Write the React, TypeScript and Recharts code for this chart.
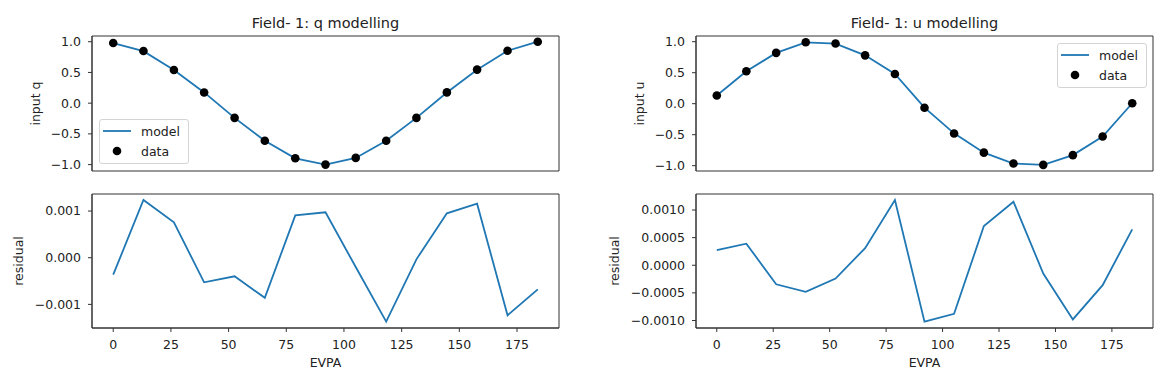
import React from 'react';
import { ComposedChart, LineChart, Line, Scatter, XAxis, YAxis, Legend, ReferenceArea } from 'recharts';

// EVPA sample positions (shared by every panel)
const evpa = [0, 13.1, 26.3, 39.4, 52.6, 65.7, 78.9, 92.0, 105.1, 118.3, 131.4, 144.6, 157.7, 170.9, 184.0];

// q panel
const qData = [0.978, 0.848, 0.54, 0.174, -0.239, -0.612, -0.896, -1.0, -0.891, -0.612, -0.24, 0.175, 0.546, 0.852, 1.0];
const qModel = [0.978, 0.847, 0.539, 0.175, -0.239, -0.611, -0.897, -1.0, -0.891, -0.611, -0.24, 0.174, 0.545, 0.853, 1.0];
const qResidual = [-0.000364, 0.001236, 0.000758, -0.000528, -0.000399, -0.00086, 0.000908, 0.000973, -0.0002, -0.00137, -0.000035, 0.000951, 0.001157, -0.001234, -0.000677];

// u panel
const uData = [0.132, 0.524, 0.82, 0.99, 0.97, 0.78, 0.48, -0.065, -0.48, -0.79, -0.965, -0.987, -0.83, -0.53, 0.008];
const uModel = [0.132, 0.524, 0.82, 0.989, 0.97, 0.78, 0.479, -0.064, -0.479, -0.791, -0.966, -0.987, -0.829, -0.53, 0.007];
const uResidual = [0.000272, 0.000391, -0.000344, -0.00048, -0.00024, 0.00031, 0.00118, -0.00102, -0.00088, 0.00071, 0.00115, -0.00015, -0.00098, -0.00036, 0.00065];

// ticks
const xTicks = [0, 25, 50, 75, 100, 125, 150, 175];
const fitTicks = [-1, -0.5, 0, 0.5, 1];
const qResTicks = [-0.001, 0, 0.001];
const uResTicks = [-0.001, -0.0005, 0, 0.0005, 0.001];

const FONT = '"DejaVu Sans", sans-serif';
const BLUE = '#1f77b4';
const SPINE = '#333';
const TXT = '#222';
const xDomain: [number, number] = [-9.2, 193.2];

const fmt = (digits: number) => (v: number) => v.toFixed(digits).replace('-', '\u2212');

const yLabel = (text: string, offset: number) => (props: any) => {
  const vb = props.viewBox || { x: 0, y: 0, height: 0 };
  const x = vb.x + offset;
  const y = vb.y + vb.height / 2;
  return (
    <text x={x} y={y} dy="0.35em" transform={`rotate(-90, ${x}, ${y})`} textAnchor="middle"
      fontSize={12.5} fontFamily={FONT} fill={TXT}>{text}</text>
  );
};

// matplotlib order: line handle first, then markers
const LegendBox = ({ payload }: any) => {
  const items = [...(payload || [])].sort((a: any, b: any) => (a.type === 'line' ? -1 : 0) - (b.type === 'line' ? -1 : 0));
  return (
    <div style={{
      width: 90, height: 45, boxSizing: 'border-box', border: '1px solid #d4d4d4', borderRadius: 3,
      background: 'rgba(255,255,255,0.85)', padding: '1px 0 0 3px', fontFamily: FONT, fontSize: 12.5, color: TXT,
    }}>
      {items.map((e: any) => (
        <div key={e.value} style={{ display: 'flex', alignItems: 'center', height: 20 }}>
          <svg width={38} height={20}>
            {e.type === 'line'
              ? <line x1={0} x2={28} y1={10} y2={10} stroke={BLUE} strokeWidth={1.8} />
              : <circle cx={14} cy={10} r={4.3} fill="#000" />}
          </svg>
          <span>{e.value}</span>
        </div>
      ))}
    </div>
  );
};

const tickStyle = { fontSize: 12.5, fill: TXT, fontFamily: FONT };

const Frame = ({ yDomain }: { yDomain: [number, number] }) => (
  <ReferenceArea x1={xDomain[0]} x2={xDomain[1]} y1={yDomain[0]} y2={yDomain[1]}
    fill="none" fillOpacity={0} stroke={SPINE} strokeWidth={1} ifOverflow="visible" />
);

type FitProps = {
  model: number[]; data: number[]; yDomain: [number, number]; width: number; yWidth: number;
  right: number; label: string; labelOffset: number; legendLeft: number; legendTop: number;
};

const FitChart = ({ model, data, yDomain, width, yWidth, right, label, labelOffset, legendLeft, legendTop }: FitProps) => {
  const rows = evpa.map((x, i) => ({ evpa: x, model: model[i], data: data[i] }));
  return (
    <ComposedChart width={width} height={185} data={rows} margin={{ top: 36, right, bottom: 14, left: 0 }}>
      <XAxis dataKey="evpa" type="number" domain={xDomain} ticks={xTicks} allowDataOverflow
        tick={false} tickLine={false} height={0} axisLine={{ stroke: SPINE }} />
      <YAxis type="number" domain={yDomain} ticks={fitTicks} allowDataOverflow width={yWidth}
        tickFormatter={fmt(1)} tickSize={4} tickMargin={7} tick={tickStyle}
        axisLine={{ stroke: SPINE }} tickLine={{ stroke: SPINE }} label={yLabel(label, labelOffset)} />
      {Frame({ yDomain })}
      <Line dataKey="model" name="model" type="linear" stroke={BLUE} strokeWidth={1.8} dot={false}
        isAnimationActive={false} />
      <Scatter dataKey="data" name="data" fill="#000" isAnimationActive={false}
        shape={(p: any) => <circle cx={p.cx} cy={p.cy} r={4.3} fill="#000" />} />
      <Legend content={<LegendBox />} layout="vertical" align="center" verticalAlign="middle"
        wrapperStyle={{ left: legendLeft, top: legendTop, width: 90, height: 45 }} />
    </ComposedChart>
  );
};

type ResProps = {
  residual: number[]; yDomain: [number, number]; ticks: number[]; digits: number; width: number;
  yWidth: number; right: number; labelOffset: number;
};

const ResidualChart = ({ residual, yDomain, ticks, digits, width, yWidth, right, labelOffset }: ResProps) => {
  const rows = evpa.map((x, i) => ({ evpa: x, residual: residual[i] }));
  return (
    <LineChart width={width} height={199} data={rows} margin={{ top: 9, right, bottom: 16, left: 0 }}>
      <XAxis dataKey="evpa" type="number" domain={xDomain} ticks={xTicks} allowDataOverflow height={40}
        tickSize={4} tickMargin={8} tick={tickStyle} axisLine={{ stroke: SPINE }} tickLine={{ stroke: SPINE }}
        label={{ value: 'EVPA', position: 'insideBottom', offset: 1, fontSize: 12.5, fontFamily: FONT, fill: TXT }} />
      <YAxis type="number" domain={yDomain} ticks={ticks} allowDataOverflow width={yWidth}
        tickFormatter={fmt(digits)} tickSize={4} tickMargin={7} tick={tickStyle}
        axisLine={{ stroke: SPINE }} tickLine={{ stroke: SPINE }} label={yLabel('residual', labelOffset)} />
      {Frame({ yDomain })}
      <Line dataKey="residual" type="linear" stroke={BLUE} strokeWidth={1.8} dot={false} isAnimationActive={false} />
    </LineChart>
  );
};

const Title = ({ text, center }: { text: string; center: number }) => (
  <div style={{
    position: 'absolute', left: center - 200, top: 15, width: 400, textAlign: 'center',
    fontFamily: FONT, fontSize: 14.5, lineHeight: '16px', color: TXT,
  }}>{text}</div>
);

export default function App() {
  return (
    <div style={{ position: 'absolute', left: 0, top: 0, width: 1171, height: 384, background: '#fff', overflow: 'hidden' }}>
      <div style={{ position: 'absolute', left: 0, top: 0 }}>
        <FitChart model={qModel} data={qData} yDomain={[-1.104, 1.093]} width={580} yWidth={92} right={21}
          label="input q" labelOffset={36} legendLeft={99} legendTop={119} />
      </div>
      <div style={{ position: 'absolute', left: 0, top: 185 }}>
        <ResidualChart residual={qResidual} yDomain={[-0.001506, 0.001365]} ticks={qResTicks} digits={3}
          width={580} yWidth={92} right={21} labelOffset={19} />
      </div>
      <div style={{ position: 'absolute', left: 580, top: 0 }}>
        <FitChart model={uModel} data={uData} yDomain={[-1.086, 1.092]} width={591} yWidth={116} right={18}
          label="input u" labelOffset={60} legendLeft={477} legendTop={43} />
      </div>
      <div style={{ position: 'absolute', left: 580, top: 185 }}>
        <ResidualChart residual={uResidual} yDomain={[-0.001136, 0.00129]} ticks={uResTicks} digits={4}
          width={591} yWidth={116} right={18} labelOffset={35} />
      </div>
      <Title text="Field- 1: q modelling" center={325.5} />
      <Title text="Field- 1: u modelling" center={924.5} />
    </div>
  );
}
